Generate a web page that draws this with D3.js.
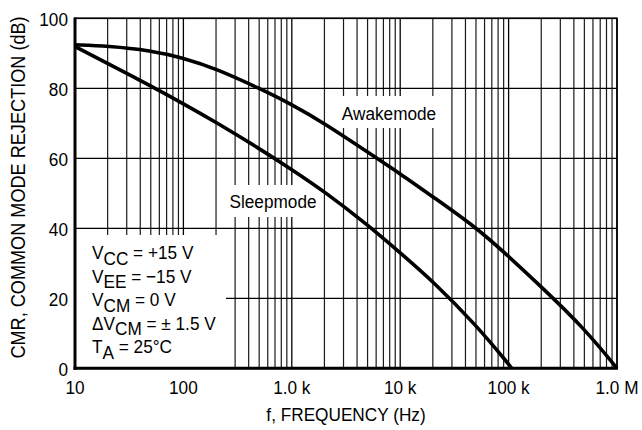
<!DOCTYPE html>
<html><head><meta charset="utf-8">
<script src="https://cdn.jsdelivr.net/npm/d3@7"></script>
<style>body{margin:0;background:#fff}text{font-family:"Liberation Sans",Arial,sans-serif;fill:#000}</style>
</head><body><svg id="c" width="642" height="430"></svg>
<script>
const awakeFreq = [10,20,50,100,200,500,1000,2000,5000,10000,20000,50000,100000,200000,500000,1000000];
const awakeCMR  = [92.4,92.1,90.8,88.7,85.6,80.0,75.4,70.0,61.8,55.6,49.0,40.3,32.0,23.3,11.4,0];
const sleepFreq = [10,20,50,100,200,500,1000,2000,5000,10000,20000,50000,100000,107000];
const sleepCMR  = [91.9,87.1,80.7,75.6,70.3,62.8,56.8,50.5,41.0,33.0,24.9,12.4,1.2,0];
const xTickVals = [10,100,1000,10000,100000,1000000];
const xTickLabels = ["10","100","1.0 k","10 k","100 k","1.0 M"];
const yTickVals = [0,20,40,60,80,100];

const svg = d3.select("#c");
const L=75,R=617,T=18.3,B=368.3;
const x = d3.scaleLog().domain([10,1e6]).range([L,R]);
const y = d3.scaleLinear().domain([0,100]).range([B,T]);
const FS=18.5, SX=0.93;

function txt(px,py,str,anchor,fs,rot){
  const t = svg.append("text")
    .attr("transform",`translate(${px},${py})`+(rot?` rotate(${rot})`:"")+` scale(${SX},1)`)
    .attr("text-anchor",anchor||"start").attr("font-size",fs||FS);
  if(str!==undefined) t.text(str);
  return t;
}

// grid
const minor=[];
for(let d=10; d<1e6; d*=10) for(let k=2;k<=9;k++) minor.push(d*k);
const g = svg.append("g");
g.selectAll(".mn").data(minor).enter().append("line")
 .attr("x1",d=>x(d)).attr("x2",d=>x(d)).attr("y1",T).attr("y2",B)
 .attr("stroke","#1a1a1a").attr("stroke-width",1.2);
g.selectAll(".mj").data(xTickVals).enter().append("line")
 .attr("x1",d=>x(d)).attr("x2",d=>x(d)).attr("y1",T).attr("y2",B)
 .attr("stroke","#000").attr("stroke-width",1.3);
g.selectAll(".hy").data(yTickVals).enter().append("line")
 .attr("x1",L).attr("x2",R).attr("y1",d=>y(d)).attr("y2",d=>y(d))
 .attr("stroke","#000").attr("stroke-width",1.3);

// masks behind the labels
svg.append("rect").attr("x",L+1).attr("y",235).attr("width",150).attr("height",B-235).attr("fill","#fff");
svg.append("rect").attr("x",338).attr("y",96).attr("width",102).attr("height",32).attr("fill","#fff");
svg.append("rect").attr("x",224).attr("y",185).attr("width",97).attr("height",32).attr("fill","#fff");

// curves
const line = d3.line().x(d=>x(d[0])).y(d=>y(d[1])).curve(d3.curveBasis);
svg.append("path").datum(awakeFreq.map((f,i)=>[f,awakeCMR[i]])).attr("d",line)
 .attr("fill","none").attr("stroke","#000").attr("stroke-width",3.6);
svg.append("path").datum(sleepFreq.map((f,i)=>[f,sleepCMR[i]])).attr("d",line)
 .attr("fill","none").attr("stroke","#000").attr("stroke-width",3.6);

// frame
svg.append("rect").attr("x",L).attr("y",T).attr("width",R-L).attr("height",B-T)
 .attr("fill","none").attr("stroke","#000").attr("stroke-width",1.6);
svg.append("line").attr("x1",L).attr("x2",L).attr("y1",T-0.8).attr("y2",B+1.5).attr("stroke","#000").attr("stroke-width",3);
svg.append("line").attr("x1",L-1.5).attr("x2",R+1).attr("y1",B).attr("y2",B).attr("stroke","#000").attr("stroke-width",3);

// tick labels
yTickVals.forEach(v=>txt(68,y(v)+7.5,String(v),"end"));
xTickVals.forEach((v,i)=>txt(x(v),393.5,xTickLabels[i],"middle"));

txt(346,421,"f, FREQUENCY (Hz)","middle");
txt(25,187.5,"CMR, COMMON MODE REJECTION (dB)","middle",19.5,-90);

txt(389,120,"Awakemode","middle");
txt(273,208,"Sleepmode","middle");

// conditions box
const cond = [
 [["V",""],["CC","sub"],[" = +15 V",""]],
 [["V",""],["EE","sub"],[" = \u221215 V",""]],
 [["V",""],["CM","sub"],[" = 0 V",""]],
 [["\u0394V",""],["CM","sub"],[" = \u00b1 1.5 V",""]],
 [["T",""],["A","sub"],[" = 25\u00b0C",""]]
];
cond.forEach((ln,i)=>{
  const t = txt(92,259+i*23.5);
  ln.forEach((p,j)=>{
    const ts = t.append("tspan").text(p[0]);
    if(p[1]==="sub") ts.attr("dy",5.5);
    else if(j>0) ts.attr("dy",-5.5);
  });
});
</script></body></html>
